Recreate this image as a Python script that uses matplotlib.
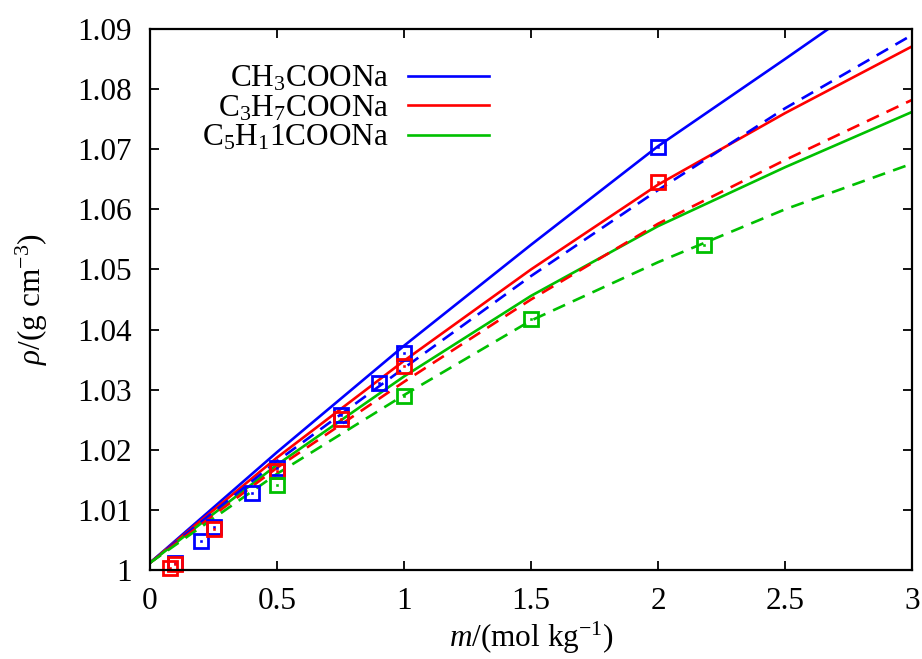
import matplotlib
matplotlib.use('Agg')
import matplotlib.pyplot as plt

plt.rcParams['font.family'] = ['Liberation Serif', 'DejaVu Serif']
plt.rcParams['mathtext.fontset'] = 'custom'
plt.rcParams['mathtext.rm'] = 'Liberation Serif'
plt.rcParams['mathtext.it'] = 'Liberation Serif:italic'

# curves (solid and dashed per salt)
m_curve = [0.0, 0.5, 1.0, 1.5, 2.0, 2.5, 3.0]
blue_solid_x = [0.0, 0.5, 1.0, 1.5, 2.0, 2.5, 2.67]
blue_solid = [1.0012, 1.0196, 1.0373, 1.0541, 1.0705, 1.0850, 1.0900]
blue_dash = [1.0012, 1.0181, 1.0336, 1.0489, 1.0632, 1.0768, 1.0890]
red_solid = [1.0012, 1.0187, 1.0348, 1.0500, 1.0641, 1.0760, 1.0871]
red_dash = [1.0012, 1.0170, 1.0313, 1.0450, 1.0576, 1.0682, 1.0782]
green_solid = [1.0012, 1.0175, 1.0322, 1.0456, 1.0572, 1.0670, 1.0762]
green_dash = [1.0012, 1.0160, 1.0291, 1.0415, 1.0512, 1.0600, 1.0676]

# measured points
blue_m = [0.1, 0.2, 0.25, 0.4, 0.5, 0.75, 0.9, 1.0, 2.0]
blue_rho = [1.0012, 1.0049, 1.0072, 1.0128, 1.0170, 1.0258, 1.0311, 1.0361, 1.0704]
red_m = [0.08, 0.1, 0.25, 0.5, 0.75, 1.0, 2.0]
red_rho = [1.0003, 1.0010, 1.0068, 1.0164, 1.0251, 1.0339, 1.0645]
green_m = [0.5, 1.0, 1.5, 2.18]
green_rho = [1.0141, 1.0290, 1.0417, 1.0541]

labels = ['CH$_3$COONa', 'C$_3$H$_7$COONa', 'C$_5$H$_1$1COONa']
xticks = [0, 0.5, 1, 1.5, 2, 2.5, 3]
xticklabels = ['0', '0.5', '1', '1.5', '2', '2.5', '3']
yticks = [1.0, 1.01, 1.02, 1.03, 1.04, 1.05, 1.06, 1.07, 1.08, 1.09]
yticklabels = ['1', '1.01', '1.02', '1.03', '1.04', '1.05', '1.06', '1.07', '1.08', '1.09']

blue = '#0000ff'
red = '#ff0000'
green = '#00c000'
fs = 22.5

fig = plt.figure(figsize=(9.22, 6.59), dpi=100)
ax = fig.add_axes([150 / 922, 1 - 570 / 659, 762 / 922, 541 / 659])

lw = 1.9
dash = (5, 3.2)
ax.plot(blue_solid_x, blue_solid, color=blue, lw=lw, label=labels[0])
ax.plot(m_curve, red_solid, color=red, lw=lw, label=labels[1])
ax.plot(m_curve, green_solid, color=green, lw=lw, label=labels[2])
ax.plot(m_curve, blue_dash, color=blue, lw=lw, dashes=dash)
ax.plot(m_curve, red_dash, color=red, lw=lw, dashes=dash)
ax.plot(m_curve, green_dash, color=green, lw=lw, dashes=dash)

for mm, rr, c in [(blue_m, blue_rho, blue), (red_m, red_rho, red), (green_m, green_rho, green)]:
    ax.plot(mm, rr, ls='none', marker='s', ms=9.5, mfc='none', mec=c, mew=2.0, clip_on=False)
    ax.plot(mm, rr, ls='none', marker='s', ms=1.8, mfc=c, mec=c, mew=0.4, clip_on=False)

ax.set_xlim(0, 3)
ax.set_ylim(1.0, 1.09)
ax.set_xticks(xticks)
ax.set_xticklabels(xticklabels)
ax.set_yticks(yticks)
ax.set_yticklabels(yticklabels)
ax.tick_params(direction='in', top=True, right=True, length=6.5, width=1.3,
               labelsize=fs)
ax.tick_params(axis='y', pad=13)
ax.tick_params(axis='x', pad=12)
for s in ax.spines.values():
    s.set_linewidth(1.6)

ax.set_xlabel(r'$m$/(mol kg$^{-1}$)', fontsize=fs, labelpad=3)
ax.set_ylabel(r'$\rho$/(g cm$^{-3}$)', fontsize=fs, labelpad=20)

ax.legend(loc='upper right', bbox_to_anchor=(0.445, 0.935), markerfirst=False,
          frameon=False, fontsize=fs, handlelength=2.6, handletextpad=0.6,
          labelspacing=0.0, borderpad=0, borderaxespad=0)

fig.savefig('out.png', dpi=100)
